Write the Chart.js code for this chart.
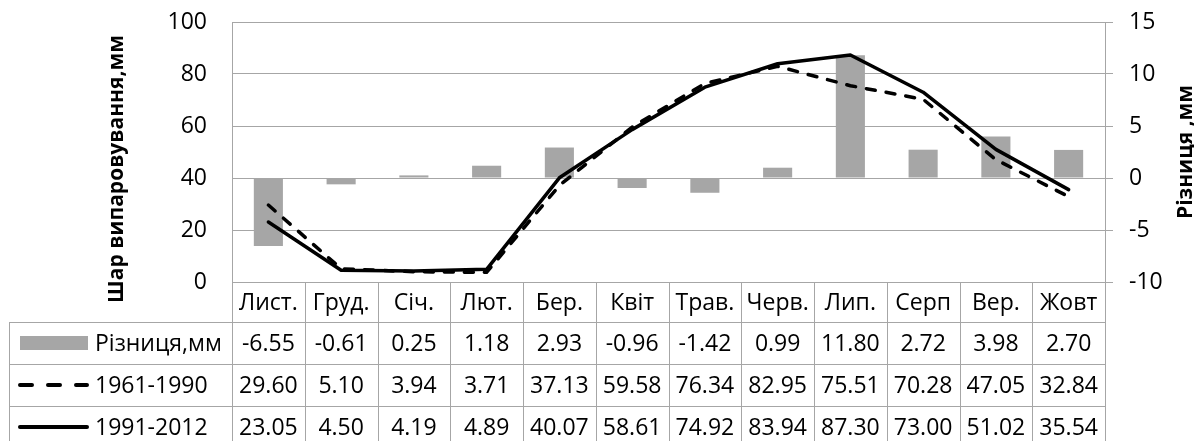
<!DOCTYPE html>
<html>
<head>
<meta charset="utf-8">
<script src="https://cdn.jsdelivr.net/npm/chart.js@4.4.0/dist/chart.umd.min.js"></script>
<style>
  html, body { margin: 0; padding: 0; background: #fff; }
  #wrap { width: 1194px; height: 441px; position: relative; overflow: hidden; }
</style>
</head>
<body>
<div id="wrap"><canvas id="c" width="1194" height="441"></canvas></div>
<script>
// Monthly evaporation layer, two climate periods, and their difference
const months = ['Лист.', 'Груд.', 'Січ.', 'Лют.', 'Бер.', 'Квіт', 'Трав.', 'Черв.', 'Лип.', 'Серп', 'Вер.', 'Жовт'];
const diffValues = [-6.55, -0.61, 0.25, 1.18, 2.93, -0.96, -1.42, 0.99, 11.80, 2.72, 3.98, 2.70];
const period1961 = [29.60, 5.10, 3.94, 3.71, 37.13, 59.58, 76.34, 82.95, 75.51, 70.28, 47.05, 32.84];
const period1991 = [23.05, 4.50, 4.19, 4.89, 40.07, 58.61, 74.92, 83.94, 87.30, 73.00, 51.02, 35.54];
const seriesNames = ['Різниця,мм', '1961-1990', '1991-2012'];
const leftTitle = 'Шар випаровування,мм';
const rightTitle = 'Різниця ,мм';

const FONT = '"Open Sans", "Noto Sans", sans-serif';
const GRID = '#a6a6a6';
const BAR = '#a6a6a6';
const TEXT_SIZE = 23;
const TITLE_SIZE = 21;

Chart.defaults.font.family = FONT;
Chart.defaults.color = '#000';

// Draws the data table under the plot plus both rotated axis titles
const dataTablePlugin = {
  id: 'dataTable',
  afterDraw(chart) {
    const ctx = chart.ctx;
    const area = chart.chartArea;
    const xs = chart.scales.x;
    const n = months.length;
    const colW = (area.right - area.left) / n;
    const rowTop = area.bottom;          // header row starts at the x axis
    const headerH = 40;
    const rowH = 42;
    const tableLeft = 9;
    const bottom = chart.height + 10;
    const rows = [diffValues, period1961, period1991];

    ctx.save();
    ctx.strokeStyle = GRID;
    ctx.lineWidth = 1;
    ctx.beginPath();
    // column separators
    for (let i = 0; i <= n; i++) {
      const x = Math.round(xs.getPixelForValue(i) - colW / 2) + 0.5;
      const xx = i === n ? Math.round(area.right) + 0.5 : x;
      ctx.moveTo(xx, rowTop);
      ctx.lineTo(xx, bottom);
    }
    // legend column left border
    ctx.moveTo(tableLeft + 0.5, rowTop + headerH);
    ctx.lineTo(tableLeft + 0.5, bottom);
    // horizontal row borders
    for (let r = 0; r < 3; r++) {
      const y = Math.round(rowTop + headerH + r * rowH) + 0.5;
      ctx.moveTo(tableLeft, y);
      ctx.lineTo(area.right, y);
    }
    ctx.stroke();

    // header labels
    ctx.fillStyle = '#000';
    ctx.font = TEXT_SIZE + 'px ' + FONT;
    ctx.textAlign = 'center';
    ctx.textBaseline = 'middle';
    months.forEach((m, i) => {
      ctx.fillText(m, xs.getPixelForValue(i), rowTop + headerH / 2 + 1);
    });

    // value rows
    rows.forEach((vals, r) => {
      const cy = rowTop + headerH + r * rowH + rowH / 2 + 1;
      vals.forEach((v, i) => {
        ctx.fillText(v.toFixed(2), xs.getPixelForValue(i), cy);
      });
    });

    // legend keys and names
    const keyL = 19, keyR = 88, textX = 95;
    rows.forEach((_, r) => {
      const cy = rowTop + headerH + r * rowH + rowH / 2;
      if (r === 0) {
        ctx.fillStyle = BAR;
        ctx.fillRect(keyL + 1, cy - 7, keyR - keyL - 1, 14);
      } else {
        ctx.strokeStyle = '#000';
        ctx.lineWidth = 4;
        ctx.lineCap = 'round';
        ctx.setLineDash(r === 1 ? [12, 16] : []);
        ctx.beginPath();
        ctx.moveTo(keyL + 1, cy);
        ctx.lineTo(keyR - 1, cy);
        ctx.stroke();
        ctx.setLineDash([]);
      }
      ctx.fillStyle = '#000';
      ctx.textAlign = 'left';
      ctx.fillText(seriesNames[r], textX, cy + 1);
    });

    // axis titles, both reading bottom to top
    ctx.font = 'bold ' + TITLE_SIZE + 'px ' + FONT;
    ctx.textAlign = 'center';
    ctx.textBaseline = 'middle';
    ctx.save();
    ctx.translate(117, 169);
    ctx.rotate(-Math.PI / 2);
    ctx.fillText(leftTitle, 0, 0);
    ctx.restore();
    ctx.save();
    ctx.translate(1186, 152);
    ctx.rotate(-Math.PI / 2);
    ctx.fillText(rightTitle, 0, 0);
    ctx.restore();

    ctx.restore();
  }
};

// keep the value axes from reserving extra room above the plot
function fitValueAxis(width) {
  return function (s) {
    s.width = width;
    s.paddingTop = 0;
    s.paddingBottom = 0;
  };
}

new Chart(document.getElementById('c'), {
  type: 'bar',
  data: {
    labels: months,
    datasets: [
      {
        type: 'line',
        label: seriesNames[2],
        data: period1991,
        yAxisID: 'y',
        borderColor: '#000',
        borderWidth: 3.5,
        pointRadius: 0,
        tension: 0,
        borderJoinStyle: 'round',
        borderCapStyle: 'round',
        order: 1
      },
      {
        type: 'line',
        label: seriesNames[1],
        data: period1961,
        yAxisID: 'y',
        borderColor: '#000',
        borderWidth: 3.5,
        borderDash: [9, 11],
        borderCapStyle: 'round',
        pointRadius: 0,
        tension: 0,
        order: 2
      },
      {
        type: 'bar',
        label: seriesNames[0],
        data: diffValues,
        yAxisID: 'y2',
        backgroundColor: BAR,
        borderWidth: 0,
        barPercentage: 0.4,
        categoryPercentage: 1,
        order: 3
      }
    ]
  },
  options: {
    responsive: false,
    animation: false,
    devicePixelRatio: 1,
    layout: { padding: { top: 22, left: 0, right: 0, bottom: 0 } },
    plugins: { legend: { display: false }, tooltip: { enabled: false } },
    scales: {
      x: {
        grid: { display: false },
        border: { display: false },
        ticks: { display: false },
        afterFit(s) { s.height = 159; }
      },
      y: {
        position: 'left',
        min: 0,
        max: 100,
        ticks: { stepSize: 20, padding: 25, color: '#000', font: { size: TEXT_SIZE } },
        grid: { color: GRID, drawTicks: false, lineWidth: 1 },
        border: { color: GRID },
        afterFit: fitValueAxis(232)
      },
      y2: {
        position: 'right',
        min: -10,
        max: 15,
        ticks: { stepSize: 5, padding: 16, color: '#000', font: { size: TEXT_SIZE } },
        grid: { drawOnChartArea: false, color: GRID, tickLength: 8 },
        border: { color: GRID },
        afterFit: fitValueAxis(89)
      }
    }
  },
  plugins: [dataTablePlugin]
});
</script>
</body>
</html>
